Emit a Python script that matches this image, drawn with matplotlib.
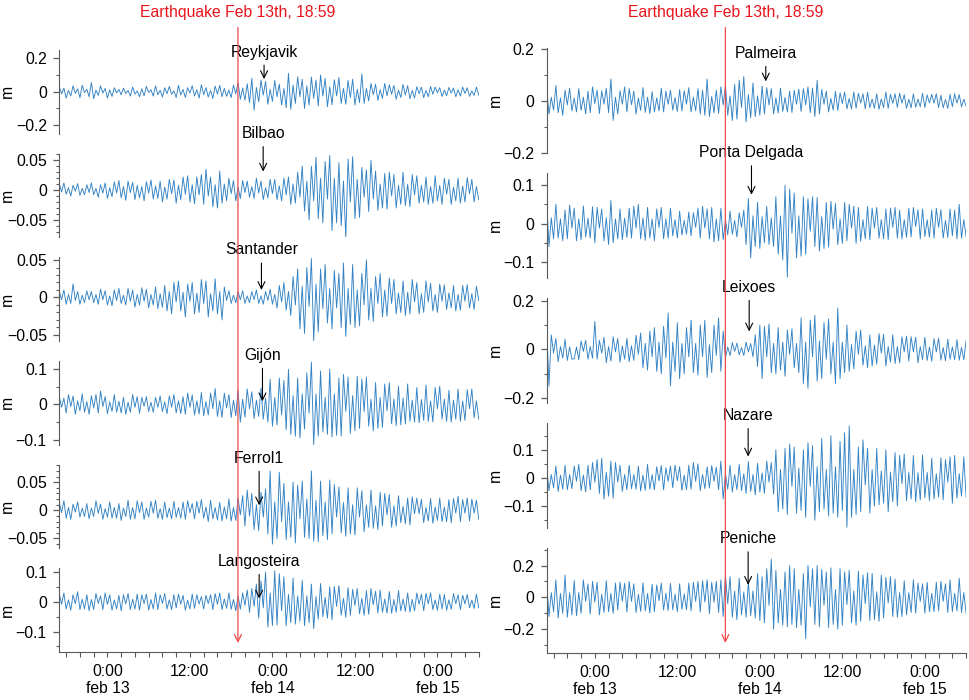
import numpy as np
import matplotlib
matplotlib.use('Agg')
import matplotlib.pyplot as plt
import matplotlib.dates as mdates
import matplotlib.ticker as mticker
import matplotlib.transforms as mtransforms

plt.rcParams['font.family'] = ['Liberation Sans', 'DejaVu Sans']
plt.rcParams['font.size'] = 11.3

# sea level residuals in mm, one value every 20 min starting feb 12 17:00
t0 = np.datetime64('2018-02-12T17:00')
step = np.timedelta64(20, 'm')
quake = np.datetime64('2018-02-13T18:59')

reykjavik = [
    30, -12, 22, -38, 8, -25, 35, -10, 18, -36, 40, -5,
    15, -30, 55, -42, 10, -22, 36, -8, 20, -38, 12, -28,
    24, -6, 14, -18, 22, -10, 8, -26, 28, -14, 5, -30,
    18, -24, 32, -4, 12, -26, 35, -18, 9, -32, 24, -12,
    32, -15, 6, -35, 38, -20, 14, -34, 24, -8, 36, -26,
    12, -38, 42, -18, 25, -32, 8, -40, 34, -14, 38, -30,
    20, -28, 10, -35, 40, -12, 55, -45, 22, -50, 48, -65,
    80, -110, 25, -60, 70, -20, 62, -75, 15, -58, 68, -30,
    45, -80, 20, -95, 110, -106, 40, -70, 90, -30, 75, -100,
    35, -80, 88, -40, 70, -85, 100, -25, 80, -90, 30, -78,
    72, -25, 85, -70, 20, -75, 68, -35, 75, -80, 15, -65,
    106, -70, 20, -55, 50, -18, 45, -52, 12, -40, 50, -25,
    42, -15, 38, -45, 10, -35, 44, -20, 36, -42, 8, -38,
    30, -12, 28, -35, 8, -30, 32, -15, 28, -6, 25, -28,
    10, -24, 26, -8, 22, -30, 12, -26, 28, -10, 24, -28,
    5, -22, 28, -20]

bilbao = [
    10, -3, 12, -7, 4, -10, 8, -2, 11, -9, 3, -8,
    9, -4, 12, -8, 3, -12, 9, -5, 12, -14, 4, -11,
    14, -5, 16, -13, 6, -17, 15, -4, 13, -16, 8, -13,
    6, -18, 14, -5, 17, -15, 7, -14, 15, -20, 5, -15,
    18, -6, 17, -22, 8, -16, 22, -7, 24, -20, 9, -23,
    22, -8, 26, -24, 35, -10, 22, -28, 9, -30, 32, -22,
    10, -18, 20, -6, 16, -18, 5, -14, 16, -4, 15, -12,
    6, -14, 20, -5, 15, -16, 4, -13, 18, -6, 18, -16,
    7, -18, 20, -8, 22, -24, 10, -22, 30, -12, 40, -35,
    15, -50, 40, -18, 55, -48, 20, -55, 48, -15, 58, -68,
    20, -55, 46, -60, 15, -80, 52, -20, 56, -48, 18, -46,
    38, -12, 34, -36, 50, -15, 32, -34, 10, -30, 28, -32,
    30, -10, 26, -30, 8, -24, 30, -26, 10, -28, 26, -8,
    24, -22, 8, -20, 22, -24, 6, -22, 24, -18, 8, -24,
    20, -7, 18, -24, 5, -18, 20, -22, 7, -20, 21, -6,
    18, -20, 6, -16]

santander = [
    8, -3, 10, -9, 4, -8, 18, -4, 8, -9, 3, -7,
    9, -3, 8, -7, 4, -9, 11, -3, 9, -10, 2, -11,
    10, -4, 12, -8, 3, -10, 12, -5, 10, -13, 4, -10,
    13, -5, 11, -14, 4, -10, 14, -15, 5, -13, 16, -18,
    8, -22, 20, -6, 22, -18, 7, -26, 18, -5, 20, -22,
    6, -20, 24, -8, 22, -26, 5, -18, 25, -22, 8, -30,
    14, -4, 9, -8, 3, -7, 8, -3, 9, -8, 2, -7,
    8, -3, 10, -8, 2, -9, 8, -4, 11, -9, 4, -14,
    16, -6, 20, -17, 8, -24, 28, -10, 38, -42, 15, -48,
    40, -12, 52, -58, 18, -46, 38, -15, 44, -34, 12, -42,
    36, -14, 32, -40, 46, -52, 12, -36, 44, -40, 10, -38,
    32, -10, 50, -30, 12, -32, 28, -8, 32, -26, 10, -25,
    26, -8, 24, -22, 6, -20, 22, -24, 7, -22, 24, -6,
    20, -22, 5, -20, 22, -6, 19, -18, 4, -20, 18, -5,
    17, -16, 6, -14, 16, -18, 4, -17, 16, -5, 17, -14,
    5, -16, 15, -4]

gijon = [
    22, -8, 18, -24, 28, -6, 24, -28, 10, -18, 30, -22,
    8, -28, 25, -10, 28, -24, 38, -6, 22, -26, 7, -20,
    28, -22, 9, -24, 20, -28, 6, -22, 28, -8, 22, -25,
    20, -5, 22, -20, 6, -22, 20, -8, 24, -20, 7, -26,
    24, -8, 28, -24, 10, -26, 22, -28, 32, -8, 27, -30,
    10, -27, 34, -32, 8, -30, 32, -12, 45, -34, 10, -37,
    32, -10, 28, -37, 12, -32, 40, -50, 15, -36, 44, -12,
    36, -40, 12, -34, 46, -42, 18, -50, 72, -62, 20, -58,
    75, -30, 68, -72, 100, -85, 25, -90, 75, -95, 30, -70,
    90, -25, 120, -115, 30, -90, 95, -78, 20, -85, 100, -92,
    30, -88, 75, -90, 85, -20, 78, -82, 25, -75, 80, -68,
    72, -20, 78, -62, 15, -75, 62, -68, 20, -65, 58, -18,
    62, -55, 15, -60, 52, -58, 18, -55, 58, -48, 12, -50,
    48, -52, 14, -45, 55, -48, 10, -50, 48, -12, 52, -42,
    15, -48, 40, -50, 12, -42, 44, -48, 10, -45, 42, -12,
    44, -38, 10, -42]

ferrol1 = [
    14, -4, 17, -14, 5, -16, 11, -3, 15, -12, 4, -11,
    12, -15, 4, -11, 17, -5, 11, -16, 3, -12, 15, -14,
    5, -14, 12, -18, 4, -11, 18, -16, 5, -15, 17, -4,
    15, -16, 4, -12, 16, -5, 18, -14, 3, -16, 15, -13,
    4, -15, 16, -12, 5, -14, 15, -16, 17, -4, 12, -15,
    16, -5, 19, -14, 6, -20, 18, -15, 5, -17, 14, -19,
    6, -15, 20, -19, 5, -18, 22, -8, 26, -28, 36, -10,
    30, -34, 10, -36, 32, -12, 38, -42, 70, -60, 15, -50,
    68, -20, 48, -52, 15, -48, 50, -58, 45, -15, 52, -48,
    20, -50, 70, -55, 18, -56, 52, -45, 15, -52, 54, -42,
    46, -12, 42, -40, 14, -46, 40, -42, 10, -44, 40, -12,
    35, -38, 10, -30, 36, -32, 8, -34, 32, -28, 30, -8,
    28, -30, 8, -28, 26, -22, 7, -24, 22, -26, 24, -6,
    22, -6, 20, -22, 5, -19, 21, -23, 6, -18, 22, -20,
    6, -20, 19, -22, 21, -5, 25, -20, 19, -5, 22, -19,
    20, -5, 18, -16]

langosteira = [
    26, -8, 30, -24, 7, -28, 24, -6, 34, -26, 9, -24,
    24, -30, 8, -26, 28, -5, 20, -26, 30, -8, 24, -28,
    6, -24, 22, -30, 24, -7, 28, -26, 9, -24, 26, -28,
    24, -6, 26, -28, 8, -24, 30, -26, 24, -5, 28, -24,
    7, -26, 24, -20, 26, -8, 22, -28, 6, -24, 26, -22,
    24, -7, 18, -24, 22, -6, 24, -26, 28, -8, 30, -26,
    10, -22, 30, -25, 8, -30, 20, -25, 30, -12, 40, -35,
    45, -15, 60, -55, 70, -20, 100, -85, 30, -80, 105, -78,
    95, -30, 85, -80, 25, -70, 80, -75, 20, -65, 72, -80,
    20, -70, 60, -90, 18, -58, 62, -50, 15, -55, 50, -60,
    52, -15, 55, -45, 12, -52, 48, -45, 42, -12, 45, -40,
    12, -45, 38, -42, 45, -10, 36, -38, 40, -35, 10, -38,
    35, -38, 8, -35, 38, -30, 10, -32, 30, -34, 8, -30,
    30, -8, 26, -30, 28, -6, 30, -26, 7, -28, 26, -24,
    25, -28, 7, -25, 28, -6, 24, -26, 22, -7, 25, -20,
    6, -22, 26, -20]

palmeira = [
    45, -50, 15, -35, 60, -45, 12, -55, 42, -15, 50, -38,
    12, -42, 48, -36, 15, -50, 38, -45, 55, -10, 42, -48,
    40, -12, 50, -45, 85, -75, 15, -50, 40, -12, 55, -42,
    48, -14, 38, -50, 12, -36, 52, -44, 15, -48, 36, -42,
    12, -38, 50, -42, 38, -12, 42, -35, 14, -40, 44, -38,
    40, -12, 52, -42, 15, -38, 48, -50, 42, -55, 85, -60,
    18, -45, 42, -48, 55, -15, 60, -55, 20, -75, 65, -70,
    80, -25, 95, -80, 25, -65, 70, -60, 20, -55, 58, -50,
    52, -15, 48, -50, 12, -46, 50, -40, 14, -42, 38, -44,
    42, -12, 46, -40, 48, -15, 55, -45, 50, -60, 80, -50,
    45, -12, 38, -42, 10, -35, 38, -36, 32, -10, 35, -30,
    10, -30, 35, -28, 30, -8, 28, -30, 34, -26, 8, -28,
    28, -32, 8, -25, 35, -28, 26, -9, 28, -24, 30, -8,
    25, -28, 7, -26, 28, -24, 8, -22, 30, -25, 24, -7,
    26, -8, 28, -25, 22, -26, 6, -28, 26, -22, 28, -8,
    25, -22, 7, -20]

ponta_delgada = [
    55, -60, 15, -40, 50, -38, 12, -45, 35, -40, 48, -12,
    40, -45, 12, -42, 46, -35, 14, -38, 44, -50, 42, -12,
    38, -45, 15, -55, 60, -50, 12, -40, 38, -42, 14, -36,
    40, -38, 45, -12, 50, -40, 14, -44, 42, -38, 12, -45,
    38, -10, 42, -40, 12, -38, 40, -32, 10, -38, 32, -30,
    8, -28, 30, -32, 28, -10, 40, -38, 45, -12, 38, -40,
    42, -48, 12, -45, 40, -42, 10, -30, 32, -28, 8, -35,
    28, -10, 35, -55, 65, -90, 20, -60, 55, -65, 18, -50,
    45, -55, 15, -60, 70, -80, 20, -95, 100, -140, 90, -25,
    80, -90, 20, -85, 70, -80, 65, -20, 70, -60, 68, -72,
    18, -65, 55, -62, 58, -15, 52, -55, 12, -52, 55, -45,
    50, -12, 45, -52, 42, -46, 10, -40, 44, -42, 40, -12,
    42, -38, 10, -40, 38, -42, 40, -10, 42, -38, 35, -40,
    10, -36, 40, -35, 42, -8, 36, -40, 38, -34, 10, -36,
    35, -38, 40, -10, 36, -38, 8, -36, 38, -32, 35, -40,
    50, -38, 10, -34]

leixoes = [
    90, -150, 60, -15, 45, -50, 12, -35, 42, -45, 10, -40,
    -38, 10, -42, 35, -8, 38, -40, 12, -36, 115, -40, 38,
    -15, 50, -55, 12, -48, 52, -10, 45, -52, 15, -40, 46,
    -50, 15, -45, 58, -20, 68, -75, 25, -85, 75, -30, 90,
    -90, 30, -100, 95, -35, 150, -150, 30, -90, 110, -120, 25,
    -100, 90, -30, 120, -95, 25, -105, 100, -30, 120, -115, 20,
    -95, 100, -25, 130, -90, 75, -35, 10, -25, 28, -8, 26,
    -22, 8, -25, 30, -10, 24, -30, 60, -70, 100, -120, 95,
    -30, 105, -95, 25, -100, 90, -85, 30, -110, 80, -20, 85,
    -75, 25, -95, 130, -140, 30, -160, 120, -30, 140, -130, 35,
    -120, 110, -40, 125, -100, 30, -140, 170, -120, 30, -95, 100,
    -90, 20, -80, 75, -20, 80, -65, 15, -75, 60, -68, 18,
    -60, 65, -15, 62, -68, 12, -52, 60, -58, 12, -55, 52,
    -10, 55, -48, 52, -10, 50, -55, 12, -42, 50, -45, 10,
    -48, 44, -10, 46, -44, 8, -46, 42, -40, 10, -42, 40,
    -44, 8, -42, 36]

nazare = [
    40, -45, 12, -35, 42, -48, 10, -40, 45, -42, 12, -38,
    42, -12, 48, -45, 10, -50, 45, -42, 55, -15, 65, -55,
    70, -75, 20, -65, 60, -72, 55, -15, 45, -48, 12, -42,
    45, -38, 12, -40, 42, -46, 10, -44, 48, -40, 12, -42,
    40, -10, 44, -42, 36, -12, 42, -35, 45, -10, 40, -44,
    10, -42, 45, -40, 55, -12, 50, -45, 12, -38, 40, -36,
    44, -12, 38, -42, 60, -75, 15, -40, 45, -50, 12, -42,
    48, -45, 15, -55, 58, -48, 12, -60, 52, -50, 18, -55,
    60, -15, 55, -58, 100, -120, 30, -110, 105, -130, 120, -30,
    110, -125, 35, -115, 100, -140, 125, -30, 115, -150, 40, -120,
    140, -110, 30, -135, 150, -125, 40, -140, 130, -115, 160, -175,
    185, -140, 30, -130, 110, -120, 135, -25, 105, -125, 30, -100,
    105, -95, 25, -90, 100, -120, 20, -85, 90, -100, 80, -20,
    85, -80, 20, -75, 80, -85, 18, -78, 82, -70, 20, -80,
    70, -75, 15, -68, 72, -78, 65, -15, 75, -90, 80, -72,
    15, -65, 75, -68]

peniche = [
    100, -120, 30, -90, 110, -130, 25, -100, 140, -125, 30, -110,
    105, -115, 30, -100, 110, -25, 85, -105, 100, -30, 95, -110,
    20, -95, 105, -90, 25, -100, 90, -80, 95, -25, 88, -92,
    100, -25, 85, -95, 20, -88, 92, -85, 25, -98, 82, -90,
    78, -20, 90, -80, 25, -82, 88, -78, 20, -90, 85, -75,
    22, -78, 90, -85, 95, -25, 100, -92, 105, -30, 110, -102,
    95, -30, 100, -95, 110, -120, 140, -40, 130, -125, 40, -140,
    120, -110, 35, -125, 100, -115, 40, -130, 150, -145, 130, -160,
    180, -50, 240, -200, 170, -160, 50, -175, 160, -185, 200, -170,
    180, -190, 50, -175, 150, -260, 200, -60, 180, -170, 200, -185,
    175, -50, 160, -190, 185, -170, 50, -200, 180, -175, 160, -45,
    170, -160, 40, -175, 165, -150, 140, -40, 155, -145, 150, -140,
    35, -150, 140, -130, 125, -35, 130, -120, 115, -125, 30, -120,
    105, -110, 30, -95, 110, -100, 90, -25, 85, -100, 95, -90,
    25, -90, 95, -85, 100, -25, 85, -95, 110, -90, 25, -85,
    120, -95, 30, -100]

left_names = ['Reykjavik', 'Bilbao', 'Santander', 'Gijón', 'Ferrol1', 'Langosteira']
left_series = [reykjavik, bilbao, santander, gijon, ferrol1, langosteira]
right_names = ['Palmeira', 'Ponta Delgada', 'Leixoes', 'Nazare', 'Peniche']
right_series = [palmeira, ponta_delgada, leixoes, nazare, peniche]

# where the station arrows point (time, level in m)
left_marks = [('2018-02-13T22:47', 0.076), ('2018-02-13T22:39', 0.031),
              ('2018-02-13T22:24', 0.010), ('2018-02-13T22:33', 0.009),
              ('2018-02-13T22:04', 0.009), ('2018-02-13T22:04', 0.0115)]
right_marks = [('2018-02-14T00:52', 0.076), ('2018-02-13T22:47', 0.075),
               ('2018-02-13T22:27', 0.074), ('2018-02-13T22:18', 0.076),
               ('2018-02-13T22:18', 0.079)]

# layout (pixels / axis settings)
left_ylim = [(-0.25, 0.25), (-0.079, 0.061), (-0.058, 0.0535),
             (-0.114, 0.123), (-0.0675, 0.081), (-0.169, 0.1125)]
left_ticks = [(0.2, 0.1), (0.05, 0.01), (0.05, 0.01), (0.1, 0.05), (0.05, 0.01), (0.1, 0.05)]
left_arrow_px = [27, 38, 40, 46, 47, 37]
right_ylim = [(-0.2, 0.204), (-0.1416, 0.131), (-0.219, 0.21), (-0.177, 0.194), (-0.348, 0.308)]
right_ticks = [(0.2, 0.1), (0.1, 0.05), (0.2, 0.1), (0.1, 0.05), (0.2, 0.1)]
right_arrow_px = [28, 42, 44, 41, 46]

W, H = 970, 700
fig = plt.figure(figsize=(9.7, 7.0), dpi=100)
line_color = '#3282c4'
spine_color = '#5a5a5a'


def yfmt(v, pos):
    if abs(v) < 1e-9:
        return '0'
    return f'{v:g}'.replace('-', '\u2212')


def xfmt(v, pos):
    d = mdates.num2date(v)
    if d.hour == 0:
        return f'0:00\nfeb {d.day}'
    return f'{d.hour}:00'


def make_column(x0, top0, pitch, height, names, series, ylims, ticks, marks, arrow_px):
    axes = []
    n = len(names)
    for k in range(n):
        top = top0 + pitch * k
        ax = fig.add_axes([x0 / W, 1 - (top + height) / H, 419.4 / W, height / H])
        ax.patch.set_visible(False)
        vals = np.array(series[k]) / 1000.0
        t = t0 + np.arange(len(vals)) * step
        ax.plot(t, vals, color=line_color, lw=0.65)
        ax.set_xlim(t0, t0 + 183 * step)
        ax.set_ylim(*ylims[k])
        for s in ['top', 'right']:
            ax.spines[s].set_visible(False)
        ax.spines['left'].set_color(spine_color)
        ax.spines['bottom'].set_color(spine_color)
        ax.yaxis.set_major_locator(mticker.MultipleLocator(ticks[k][0]))
        ax.yaxis.set_minor_locator(mticker.MultipleLocator(ticks[k][1]))
        ax.yaxis.set_major_formatter(mticker.FuncFormatter(yfmt))
        ax.tick_params(axis='y', which='major', length=4, width=0.9, color=spine_color, pad=5)
        ax.tick_params(axis='y', which='minor', length=2.5, width=0.8, color=spine_color)
        ax.set_ylabel('m')
        ax.yaxis.set_label_coords(-0.105, 0.5)
        ax.xaxis.set_major_locator(mdates.HourLocator(byhour=[0, 12]))
        ax.xaxis.set_minor_locator(mdates.HourLocator(byhour=range(0, 24, 2)))
        ax.xaxis.set_major_formatter(mticker.FuncFormatter(xfmt))
        if k < n - 1:
            ax.spines['bottom'].set_visible(False)
            ax.tick_params(axis='x', which='both', bottom=False, labelbottom=False)
        else:
            ax.tick_params(axis='x', which='both', length=3.5, width=0.8, color=spine_color, pad=5)
        tm = mdates.date2num(np.datetime64(marks[k][0]))
        ax.annotate(names[k], xy=(tm, marks[k][1]), xytext=(0, arrow_px[k] * 0.72),
                    textcoords='offset points', ha='center', va='center',
                    arrowprops=dict(arrowstyle='->,head_length=0.45,head_width=0.22',
                                    color='black', lw=0.8, shrinkA=2, shrinkB=0),
                    annotation_clip=False)
        axes.append(ax)
    # earthquake line across the whole column
    bottom_ax = axes[-1]
    trans = mtransforms.blended_transform_factory(bottom_ax.transData, fig.transFigure)
    tq = mdates.date2num(quake)
    bottom_ax.annotate('Earthquake Feb 13th, 18:59', xy=(tq, 1 - 643 / H), xycoords=trans,
                       xytext=(tq, 1 - 13 / H), textcoords=trans, ha='center', va='center',
                       color='#e8141a',
                       arrowprops=dict(arrowstyle='->,head_length=0.45,head_width=0.22',
                                       color='#ef4a4a', lw=0.9, shrinkA=3, shrinkB=0),
                       annotation_clip=False, zorder=10)
    return axes


make_column(59.3, 50, 103.7, 83.5, left_names, left_series, left_ylim, left_ticks,
            left_marks, left_arrow_px)
make_column(546.7, 48.3, 125, 104.5, right_names, right_series, right_ylim, right_ticks,
            right_marks, right_arrow_px)

fig.savefig('out.png', dpi=100)
